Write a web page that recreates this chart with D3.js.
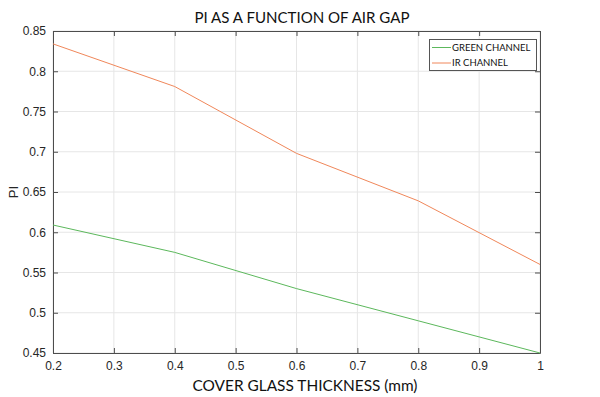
<!DOCTYPE html>
<html>
<head>
<meta charset="utf-8">
<script src="https://cdn.jsdelivr.net/npm/d3@7"></script>
<style>
  body { margin: 0; background: #fff; }
  svg { display: block; }
</style>
</head>
<body>
<svg id="chart" width="600" height="397"></svg>
<script>
const thickness = [0.2, 0.4, 0.6, 0.8, 1.0];
const greenChannel = [0.609, 0.575, 0.530, 0.490, 0.450];
const irChannel = [0.834, 0.781, 0.698, 0.639, 0.560];
const seriesNames = ["GREEN CHANNEL", "IR CHANNEL"];
const xTicks = [0.2, 0.3, 0.4, 0.5, 0.6, 0.7, 0.8, 0.9, 1];
const yTicks = [0.45, 0.5, 0.55, 0.6, 0.65, 0.7, 0.75, 0.8, 0.85];

(function () {
const colors = ["#5cb85c", "#f0875a"];
const svg = d3.select("#chart");
const m = { left: 53, right: 60, top: 31, bottom: 44 };
const W = 600, H = 397;
const x = d3.scaleLinear().domain([0.2, 1]).range([m.left, W - m.right]);
const y = d3.scaleLinear().domain([0.45, 0.85]).range([H - m.bottom, m.top]);

const axisColor = "#4d4d4d";
const tickFont = "'Liberation Sans', Arial, sans-serif";
const labelFont = "Lato, 'Open Sans', sans-serif";

// gridlines
const g = svg.append("g");
g.selectAll(".gx").data(xTicks).enter().append("line")
  .attr("x1", d => x(d)).attr("x2", d => x(d))
  .attr("y1", y(0.45)).attr("y2", y(0.85))
  .attr("stroke", "#e6e6e6").attr("stroke-width", 1);
g.selectAll(".gy").data(yTicks).enter().append("line")
  .attr("y1", d => y(d)).attr("y2", d => y(d))
  .attr("x1", x(0.2)).attr("x2", x(1))
  .attr("stroke", "#e6e6e6").attr("stroke-width", 1);

// axes
const fmt = d => d3.format("")(+d.toFixed(2));
const axB = svg.append("g").attr("transform", `translate(0,${y(0.45)})`)
  .call(d3.axisBottom(x).tickValues(xTicks).tickSizeInner(-5).tickSizeOuter(0).tickPadding(8).tickFormat(fmt));
const axL = svg.append("g").attr("transform", `translate(${x(0.2)},0)`)
  .call(d3.axisLeft(y).tickValues(yTicks).tickSizeInner(-5).tickSizeOuter(0).tickPadding(7).tickFormat(fmt));
const axT = svg.append("g").attr("transform", `translate(0,${y(0.85)})`)
  .call(d3.axisTop(x).tickValues(xTicks).tickSizeInner(-5).tickSizeOuter(0).tickFormat(""));
const axR = svg.append("g").attr("transform", `translate(${x(1)},0)`)
  .call(d3.axisRight(y).tickValues(yTicks).tickSizeInner(-5).tickSizeOuter(0).tickFormat(""));
[axB, axL, axT, axR].forEach(a => {
  a.select(".domain").attr("stroke", axisColor).attr("stroke-width", 1);
  a.selectAll(".tick line").attr("stroke", axisColor);
  a.selectAll(".tick text").attr("fill", "#262626").style("font-family", tickFont).style("font-size", "12px");
});

// lines
const line = d3.line().x(d => x(d[0])).y(d => y(d[1]));
[greenChannel, irChannel].forEach((vals, i) => {
  svg.append("path")
    .datum(thickness.map((t, j) => [t, vals[j]]))
    .attr("d", line)
    .attr("fill", "none")
    .attr("stroke", colors[i])
    .attr("stroke-width", 1);
});

// title & labels
svg.append("text").attr("x", 302).attr("y", 23).attr("text-anchor", "middle")
  .style("font-family", labelFont).style("font-size", "16px").attr("fill", "#111")
  .attr("textLength", 215).attr("lengthAdjust", "spacingAndGlyphs")
  .text("PI AS A FUNCTION OF AIR GAP");
svg.append("text").attr("x", 305).attr("y", 391).attr("text-anchor", "middle")
  .style("font-family", labelFont).style("font-size", "15px").attr("fill", "#111")
  .attr("textLength", 225).attr("lengthAdjust", "spacingAndGlyphs")
  .text("COVER GLASS THICKNESS (mm)");
svg.append("text").attr("transform", "translate(18,192) rotate(-90)").attr("text-anchor", "middle")
  .style("font-family", tickFont).style("font-size", "13px").attr("fill", "#262626")
  .text("PI");

// legend
const lg = svg.append("g");
lg.append("rect").attr("x", 429.5).attr("y", 39.5).attr("width", 107).attr("height", 31)
  .attr("fill", "#fff").attr("stroke", "#555").attr("stroke-width", 1);
seriesNames.forEach((name, i) => {
  const yy = 47.5 + i * 15.5;
  lg.append("line").attr("x1", 432).attr("x2", 451).attr("y1", yy).attr("y2", yy)
    .attr("stroke", colors[i]).attr("stroke-width", 1);
  lg.append("text").attr("x", 452).attr("y", yy + 3.3)
    .style("font-family", labelFont).style("font-size", "9.5px").attr("fill", "#111")
    .text(name);
});
})();
</script>
</body>
</html>
